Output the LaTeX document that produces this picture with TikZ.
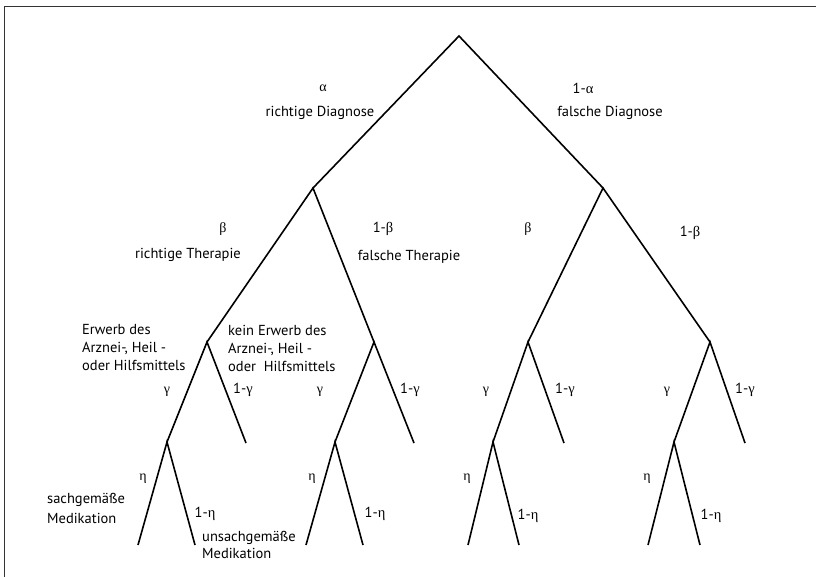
\documentclass[tikz,border=0pt]{standalone}
\usepackage{fontspec}
\setmainfont{PT Sans}
\newfontfamily\grk{Liberation Serif}
\begin{document}
\begin{tikzpicture}[x=1pt,y=-1pt,
  edge/.style={line width=1.6pt},
  lbl/.style={font=\fontsize{14.5}{18}\selectfont, inner sep=0pt},
  grl/.style={font=\fontsize{14}{16}\selectfont\grk, inner sep=0pt}]
\useasboundingbox (0,0) rectangle (816,576);
\draw[line width=1pt, draw=black!80] (4,580) -- (4,6) -- (820,6);
% tree points
\coordinate (r) at (459,36);
\coordinate (a) at (313,188);
\coordinate (b) at (603,188);
\coordinate (aa) at (207,342);
\coordinate (ab) at (374,342);
\coordinate (ba) at (528,342);
\coordinate (bb) at (710,342);
\coordinate (aaa) at (167,442);
\coordinate (aab) at (246,443);
\coordinate (aba) at (335,442);
\coordinate (abb) at (414,443);
\coordinate (baa) at (493,442);
\coordinate (bab) at (564,443);
\coordinate (bba) at (674,442);
\coordinate (bbb) at (745,443);
\coordinate (aaaa) at (138,545);
\coordinate (aaab) at (195,545);
\coordinate (abaa) at (306,545);
\coordinate (abab) at (363,545);
\coordinate (baaa) at (468,545);
\coordinate (baab) at (519,545);
\coordinate (bbaa) at (648,545);
\coordinate (bbab) at (700,545);
% edges
\draw[edge] (a) -- (r) -- (b);
\draw[edge] (aa) -- (a) -- (ab);
\draw[edge] (ba) -- (b) -- (bb);
\draw[edge] (aaa) -- (aa) -- (aab);
\draw[edge] (aba) -- (ab) -- (abb);
\draw[edge] (baa) -- (ba) -- (bab);
\draw[edge] (bba) -- (bb) -- (bbb);
\draw[edge] (aaaa) -- (aaa) -- (aaab);
\draw[edge] (abaa) -- (aba) -- (abab);
\draw[edge] (baaa) -- (baa) -- (baab);
\draw[edge] (bbaa) -- (bba) -- (bbab);
% level 1 labels
\node[grl] (la1) at (323,88) {α};
\node[lbl] (ld1) at (320,113) {richtige Diagnose};
\node[lbl] (la2) at (583,88) {1-{\grk α}};
\node[lbl] (ld2) at (610,113) {falsche Diagnose};
% level 2 labels
\node[grl] (lb1) at (223,229) {β};
\node[lbl] (lt1) at (188,255) {richtige Therapie};
\node[lbl] (lb2) at (383,229) {1-{\grk β}};
\node[lbl] (lt2) at (409,257) {falsche Therapie};
\node[grl] (lb3) at (528,229) {β};
\node[lbl] (lb4) at (690,233) {1-{\grk β}};
% level 3 labels
\node[lbl, align=left, anchor=west] (le1) at (82,348) {Erwerb des\\Arznei-, Heil -\\oder Hilfsmittels};
\node[lbl, align=left, anchor=west] (le2) at (228,348) {kein Erwerb des\\Arznei-, Heil -\\oder~ Hilfsmittels};
\node[grl] (lg1) at (167,392) {γ};
\node[lbl] (lg2) at (243,390) {1-{\grk γ}};
\node[grl] (lg3) at (320,392) {γ};
\node[lbl] (lg4) at (410,390) {1-{\grk γ}};
\node[grl] (lg5) at (486,392) {γ};
\node[lbl] (lg6) at (565,390) {1-{\grk γ}};
\node[grl] (lg7) at (667,392) {γ};
\node[lbl] (lg8) at (745,390) {1-{\grk γ}};
% level 4 labels
\node[grl] (lh1) at (143,479) {η};
\node[lbl] (lh2) at (205,514) {1-{\grk η}};
\node[grl] (lh3) at (312,479) {η};
\node[lbl] (lh4) at (375,514) {1-{\grk η}};
\node[grl] (lh5) at (467,479) {η};
\node[lbl] (lh6) at (528,516) {1-{\grk η}};
\node[grl] (lh7) at (647,479) {η};
\node[lbl] (lh8) at (711,516) {1-{\grk η}};
\node[lbl, align=left, anchor=west, font=\fontsize{14.5}{20}\selectfont] (lm1) at (47,508) {sachgemäße\\Medikation};
\node[lbl, align=left, anchor=west, font=\fontsize{14.5}{17}\selectfont] (lm2) at (202,545) {unsachgemäße\\Medikation};
\end{tikzpicture}
\end{document}
